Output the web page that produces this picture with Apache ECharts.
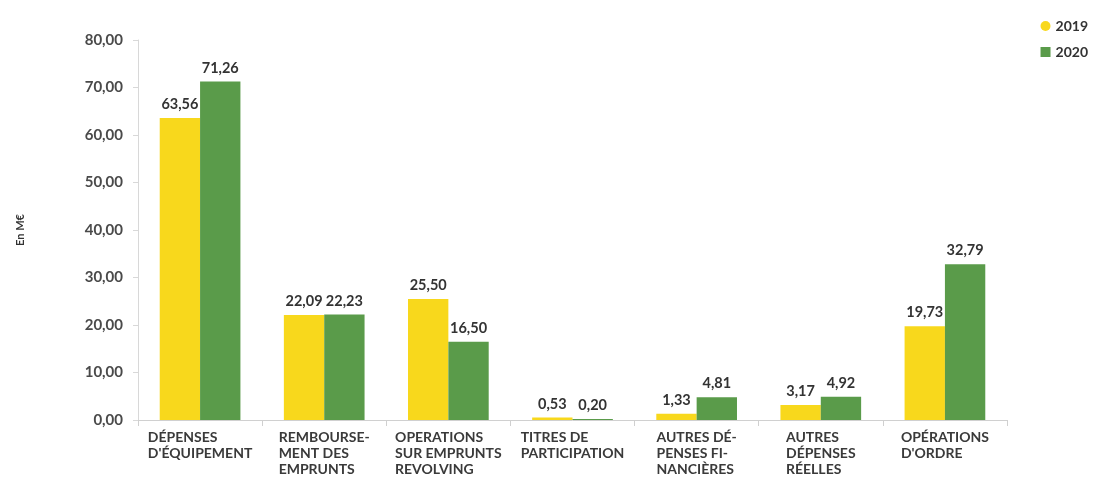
<!DOCTYPE html>
<html>
<head>
<meta charset="utf-8">
<script src="https://cdn.jsdelivr.net/npm/echarts@6/dist/echarts.min.js"></script>
<style>html,body{margin:0;padding:0;background:#fff}#c{width:1099px;height:480px}</style>
</head>
<body>
<div id="c"></div>
<script>
const categories = [
  "DÉPENSES\nD'ÉQUIPEMENT",
  "REMBOURSE-\nMENT DES\nEMPRUNTS",
  "OPERATIONS\nSUR EMPRUNTS\nREVOLVING",
  "TITRES DE\nPARTICIPATION",
  "AUTRES DÉ-\nPENSES FI-\nNANCIÈRES",
  "AUTRES\nDÉPENSES\nRÉELLES",
  "OPÉRATIONS\nD'ORDRE"
];
const values2019 = [63.56, 22.09, 25.50, 0.53, 1.33, 3.17, 19.73];
const values2020 = [71.26, 22.23, 16.50, 0.20, 4.81, 4.92, 32.79];
const seriesNames = ["2019", "2020"];
const yAxisName = "En M€";

const FONT = "Lato, 'Open Sans', sans-serif";
const fmt = v => v.toFixed(2).replace('.', ',');
const chart = echarts.init(document.getElementById('c'));
chart.setOption({
  animation: false,
  backgroundColor: '#fff',
  grid: { left: 138, right: 92, top: 40, bottom: 60 },
  legend: {
    orient: 'vertical', right: 6, top: 14, itemWidth: 10, itemHeight: 10, itemGap: 12,
    textStyle: { fontFamily: FONT, fontWeight: 'bold', fontSize: 14, color: '#333' },
    data: [{ name: seriesNames[0], icon: 'circle' }, { name: seriesNames[1], icon: 'rect' }]
  },
  xAxis: {
    type: 'category',
    data: categories,
    axisLine: { lineStyle: { color: '#d0d0d0' } },
    axisTick: { show: true, length: 6, lineStyle: { color: '#d0d0d0' } },
    axisLabel: {
      interval: 0, margin: 9, align: 'center',
      formatter: v => v.split('\n').map(l => '{a|' + l + '}').join('\n'),
      rich: { a: { align: 'left', fontFamily: FONT, fontSize: 14, fontWeight: 'bold', color: '#3a3a3a', lineHeight: 16 } }
    }
  },
  yAxis: {
    type: 'value', min: 0, max: 80, interval: 10,
    name: yAxisName, nameLocation: 'middle', nameRotate: 90, nameGap: 112,
    nameTextStyle: { fontFamily: FONT, fontWeight: 'bold', fontSize: 11, color: '#333' },
    axisLine: { show: true, lineStyle: { color: '#d8d8d8' } },
    axisTick: { show: true, length: 5, lineStyle: { color: '#d8d8d8' } },
    splitLine: { show: false },
    axisLabel: { formatter: fmt, fontFamily: FONT, fontSize: 15, fontWeight: 'bold', color: '#4a4a4a', margin: 15 }
  },
  series: [
    {
      name: seriesNames[0], type: 'bar', data: values2019, barGap: '0%', barCategoryGap: '35%',
      itemStyle: { color: '#F8D81C' },
      label: { show: true, position: 'top', formatter: p => fmt(p.value), fontFamily: FONT, fontWeight: 'bold', fontSize: 14.5, color: '#333', distance: 6 }
    },
    {
      name: seriesNames[1], type: 'bar', data: values2020,
      itemStyle: { color: '#5A9B4A' },
      label: { show: true, position: 'top', formatter: p => fmt(p.value), fontFamily: FONT, fontWeight: 'bold', fontSize: 14.5, color: '#333', distance: 6 }
    }
  ]
});
</script>
</body>
</html>
